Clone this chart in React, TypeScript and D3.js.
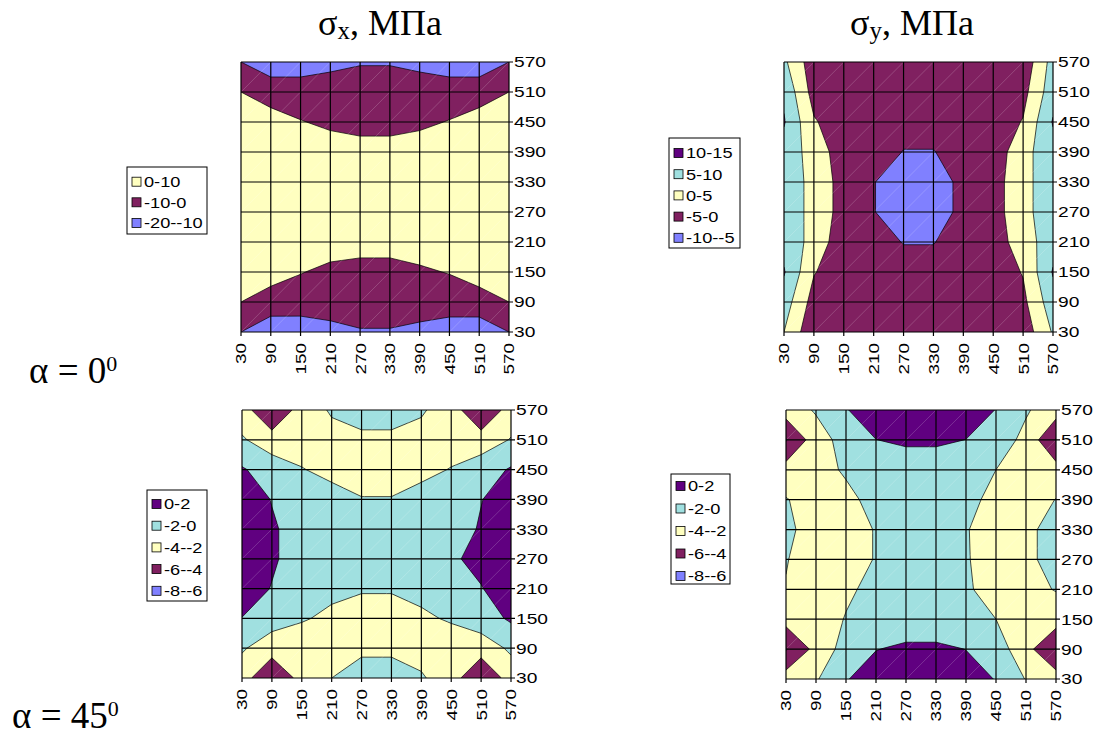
import React from "react";
import * as d3 from "d3";

// grid node coordinates (both axes)
const TICKS = [30, 90, 150, 210, 270, 330, 390, 450, 510, 570];

// Grid values: rows from y=570 (top) down to y=30 (bottom); columns x=30..570
const SIGMA_X_A0 = [
  [-10, -14, -14, -11, -10.7, -10.7, -11, -14, -14, -10],
  [0, -6, -6, -8, -5, -5, -8, -6, -6, 0],
  [6, 5.5, 0.5, -2, -4, -4, -2, 0.5, 5.5, 6],
  [7, 7, 7, 5, 4.5, 4.5, 5, 6, 7, 7],
  [8, 8, 8, 7, 7, 7, 7, 7, 8, 8],
  [8, 8, 8, 7, 7, 7, 7, 7, 8, 8],
  [7, 7, 6, 5, 4.5, 4.5, 5, 6, 7, 7],
  [6, 5, 0.5, -2.5, -4, -4, -1.5, 0.5, 5, 5],
  [0, -5.5, -6, -8, -5, -5, -7, -6, -5, 0],
  [-10, -15, -14.5, -11.2, -10.7, -10.7, -11.5, -14, -15, -10],
];

const SIGMA_Y_A0 = [
  [6, -3, -3, -3.5, -3.5, -3.5, -3.5, -3.5, -3.5, 7],
  [9, -2, -3, -3.5, -3.8, -3.8, -3.5, -3.5, -1.6, 8],
  [10.4, 0.5, -3, -3.5, -4, -4, -3.5, -3, 0.3, 10.4],
  [8, 3, -2.8, -3.5, -5.1, -5.1, -3.8, -3.1, 3.5, 8],
  [8, 3.5, -2, -4.9, -6.5, -6.5, -4.2, -2.1, 3.5, 8],
  [8, 3.5, -2, -4.9, -6.5, -6.5, -4.2, -2.1, 3.5, 8],
  [8, 3.5, -3.5, -4, -5.1, -5.1, -3.8, -2.5, 2.5, 8],
  [10.4, 0.3, -3, -3.5, -4, -4, -3.5, -3, 0.3, 10.4],
  [7.5, -2, -3, -3.5, -3.5, -3.5, -3.5, -3, -1.2, 8],
  [5, -4, -3.5, -3.5, -3.5, -3.5, -3.5, -3.5, -3, 5.5],
];

const SIGMA_X_A45 = [
  [-3, -6.1, -3, -1.8, -1, -1, -1.8, -2.9, -6.1, -3],
  [-1.8, -3, -3, -2.6, -2.5, -2.5, -2.6, -3, -3, -1.9],
  [0.2, -1, -1.9, -2.6, -3, -3, -2.6, -1.9, -1, 0.2],
  [1.5, -0.1, -1.2, -1.2, -1.9, -1.9, -1.2, -1.2, -0.1, 1.5],
  [1.5, 0.3, -1, -1.2, -1.3, -1.3, -1.2, -1.5, 0.3, 1.5],
  [1.5, 0.3, -1, -1.2, -1.3, -1.3, -1.2, -0.3, 0.6, 1.5],
  [1.2, -0.1, -1.2, -1.5, -1.8, -1.8, -1.5, -1.2, -0.1, 1.2],
  [-0.05, -1.2, -1.8, -2.45, -3, -3, -2.3, -1.8, -1, 0.3],
  [-1.8, -3, -3.3, -3, -2.3, -2.3, -2.7, -3, -3, -1.7],
  [-3, -6.1, -3.2, -2, -1.3, -1.3, -1.8, -3, -6.1, -3],
];

const SIGMA_Y_A45 = [
  [-3.1, -1.8, -0.1, 1, 1, 1, 1, -0.05, -1.8, -3.1],
  [-6.1, -2.95, -1.2, -0.02, 0.3, 0.3, -0.02, -1, -2.5, -6.1],
  [-3.2, -2.6, -1.8, -1, -1, -1, -1, -2.0, -3, -3.2],
  [-1.9, -2.8, -2.4, -1.5, -1.2, -1.2, -1.5, -2.5, -3, -1.95],
  [-1.5, -3, -2.8, -1.9, -1.2, -1.2, -1.9, -2.8, -2.3, -1.5],
  [-1.9, -3, -2.8, -1.9, -1.2, -1.2, -1.9, -2.6, -2.3, -1.5],
  [-2.1, -3, -2.3, -1.5, -1.2, -1.2, -1.9, -2.3, -2.6, -1.9],
  [-3.3, -3, -1.9, -1, -1, -1, -1.3, -2.0, -3, -3.1],
  [-6.1, -3.4, -1.2, -0.05, 0.3, 0.3, -0.02, -1, -3.3, -6.1],
  [-3.1, -2.2, -0.1, 0.8, 1, 1, 0.5, -0.05, -2.1, -3.1],
];

const THR_X_A0 = [-20, -10, 0];
const THR_Y_A0 = [-10, -5, 0, 5, 10];
const THR_A45 = [-8, -6, -4, -2, 0];

const LEG_X_A0 = ["0-10", "-10-0", "-20--10"];
const LEG_Y_A0 = ["10-15", "5-10", "0-5", "-5-0", "-10--5"];
const LEG_A45 = ["0-2", "-2-0", "-4--2", "-6--4", "-8--6"];

// band colours from lowest band upward
const BAND_COLORS = ["#8080FF", "#802060", "#FFFFC0", "#A0E0E0", "#600080"];

const SANS = "'Liberation Sans', Arial, sans-serif";
const SERIF = "'Liberation Serif', 'Times New Roman', serif";

function natWidth(s: string, size: number) {
  let w = 0;
  for (const ch of s) w += ch === "-" ? 0.333 : 0.556;
  return w * size;
}

type Box = { x: number; y: number; w: number; h: number };
type Leg = { x: number; y: number; w: number; h: number; first: number; row: number };

function Panel({ id, grid, thresholds, box }: { id: string; grid: number[][]; thresholds: number[]; box: Box }) {
  const lo = TICKS[0];
  const hi = TICKS[TICKS.length - 1];
  const n = TICKS.length;
  const step = TICKS[1] - TICKS[0];
  const x = d3.scaleLinear().domain([lo, hi]).range([box.x, box.x + box.w]);
  const y = d3.scaleLinear().domain([lo, hi]).range([box.y + box.h, box.y]);
  const contours = d3.contours().size([n, n]).thresholds(thresholds)(grid.flat());
  const proj = d3.geoTransform({
    point(px: number, py: number) {
      // @ts-ignore
      this.stream.point(x(lo + step * (px - 0.5)), y(hi - step * (py - 0.5)));
    },
  });
  const path = d3.geoPath(proj as any);
  const bottom = box.y + box.h;
  const right = box.x + box.w;
  const cells: [number, number][] = [];
  for (let i = 0; i < n - 1; i++) for (let j = 0; j < n - 1; j++) cells.push([i, j]);
  return (
    <g>
      <defs>
        <clipPath id={id}>
          <rect x={box.x} y={box.y} width={box.w} height={box.h} />
        </clipPath>
      </defs>
      <g clipPath={`url(#${id})`}>
        {contours.map((c, i) => (
          <path key={i} d={path(c as any) || ""} fill={BAND_COLORS[i]} stroke="#000" strokeWidth={0.7} strokeLinejoin="round" />
        ))}
        {cells.map(([i, j]) => (
          <line key={`d${i}-${j}`} x1={x(TICKS[i])} y1={y(TICKS[j])} x2={x(TICKS[i + 1])} y2={y(TICKS[j + 1])}
            stroke="#fff" strokeOpacity={0.3} strokeWidth={0.6} />
        ))}
      </g>
      {TICKS.map((t) => (
        <g key={`g${t}`}>
          <line x1={x(t)} x2={x(t)} y1={box.y} y2={bottom + 4} stroke="#000" strokeWidth={1.2} />
          <line x1={box.x} x2={right + 4} y1={y(t)} y2={y(t)} stroke="#000" strokeWidth={1.2} />
          <text x={right + 5} y={y(t)} dy="0.36em" fontFamily={SANS} fontSize={15}
            textLength={natWidth(String(t), 14) * 1.37} lengthAdjust="spacingAndGlyphs">{t}</text>
          <text transform={`translate(${x(t)},${bottom + 11}) rotate(-90)`} dy="0.36em" textAnchor="end"
            fontFamily={SANS} fontSize={15} textLength={natWidth(String(t), 14) * 1.35} lengthAdjust="spacingAndGlyphs">{t}</text>
        </g>
      ))}
    </g>
  );
}

function Legend({ labels, leg }: { labels: string[]; leg: Leg }) {
  const k = labels.length;
  return (
    <g>
      <rect x={leg.x} y={leg.y} width={leg.w} height={leg.h} fill="#fff" stroke="#000" strokeWidth={1} />
      {labels.map((lab, i) => {
        const cy = leg.first + i * leg.row;
        return (
          <g key={lab}>
            <rect x={leg.x + 5} y={cy - 4.5} width={9} height={9} fill={BAND_COLORS[k - 1 - i]} stroke="#000" strokeWidth={0.8} />
            <text x={leg.x + 17} y={cy} dy="0.36em" fontFamily={SANS} fontSize={15}
              textLength={natWidth(lab, 14) * 1.3} lengthAdjust="spacingAndGlyphs">{lab}</text>
          </g>
        );
      })}
    </g>
  );
}

export default function App() {
  return (
    <svg width={1093} height={738} style={{ position: "absolute", left: 0, top: 0, background: "#fff" }}>
      <rect x={0} y={0} width={1093} height={738} fill="#fff" />
      <text x={318} y={35} fontFamily={SERIF} fontSize={36}>
        σ<tspan fontSize={25} dy={4}>x</tspan><tspan dy={-4}>, МПа</tspan>
      </text>
      <text x={850} y={35} fontFamily={SERIF} fontSize={36}>
        σ<tspan fontSize={25} dy={4}>y</tspan><tspan dy={-4}>, МПа</tspan>
      </text>
      <text x={29} y={383} fontFamily={SERIF} fontSize={37}>
        α = 0<tspan fontSize={22} dy={-12}>0</tspan>
      </text>
      <text x={12} y={728} fontFamily={SERIF} fontSize={37}>
        α = 45<tspan fontSize={22} dy={-12}>0</tspan>
      </text>

      <Panel id="c1" grid={SIGMA_X_A0} thresholds={THR_X_A0} box={{ x: 241, y: 62, w: 268, h: 270 }} />
      <Panel id="c2" grid={SIGMA_Y_A0} thresholds={THR_Y_A0} box={{ x: 784, y: 62, w: 269, h: 270 }} />
      <Panel id="c3" grid={SIGMA_X_A45} thresholds={THR_A45} box={{ x: 242, y: 410, w: 269, h: 268 }} />
      <Panel id="c4" grid={SIGMA_Y_A45} thresholds={THR_A45} box={{ x: 786, y: 410, w: 270, h: 269 }} />

      <Legend labels={LEG_X_A0} leg={{ x: 127, y: 167, w: 80, h: 67, first: 181.7, row: 20.6 }} />
      <Legend labels={LEG_Y_A0} leg={{ x: 669, y: 138, w: 71, h: 110, first: 153, row: 21.2 }} />
      <Legend labels={LEG_A45} leg={{ x: 147, y: 490, w: 60, h: 111, first: 504, row: 21.7 }} />
      <Legend labels={LEG_A45} leg={{ x: 671, y: 474, w: 59, h: 110, first: 486, row: 22.5 }} />
    </svg>
  );
}
